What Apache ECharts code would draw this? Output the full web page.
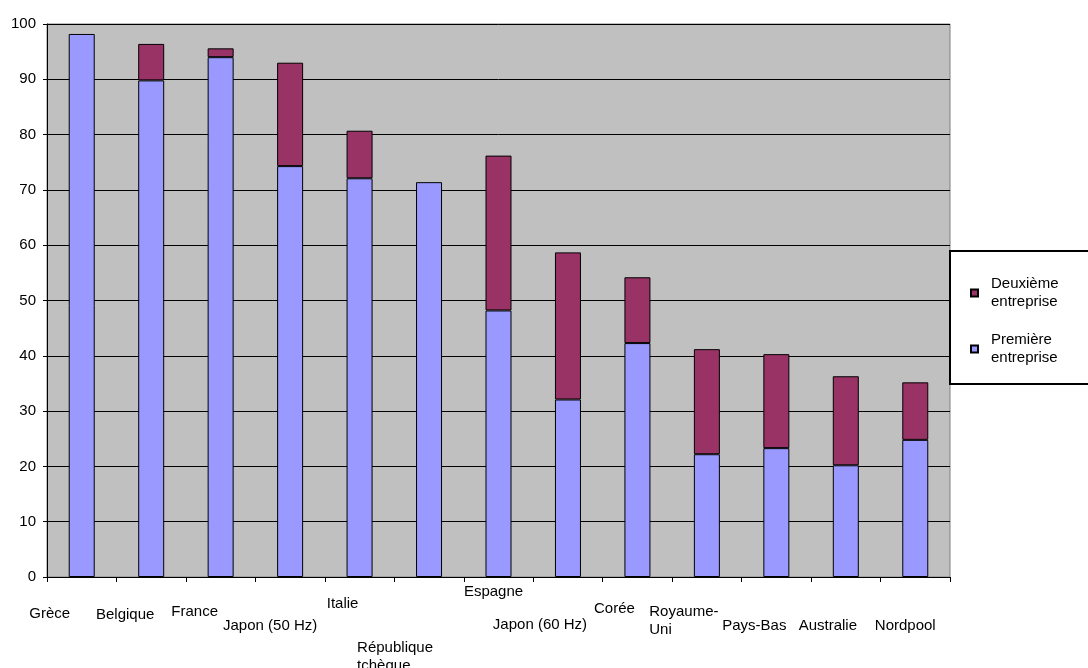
<!DOCTYPE html>
<html>
<head>
<meta charset="utf-8">
<title>Part de marché des deux premières entreprises</title>
<script src="https://cdn.jsdelivr.net/npm/echarts@6/dist/echarts.min.js"></script>
<style>
  html, body { margin: 0; padding: 0; background: #ffffff; }
  #chart { width: 1088px; height: 668px; }
</style>
</head>
<body>
<div id="chart"></div>
<script>
// Categories (multi-line names keep their line break)
const categories = [
  'Grèce', 'Belgique', 'France', 'Japon (50 Hz)', 'Italie',
  'République\ntchèque', 'Espagne', 'Japon (60 Hz)', 'Corée',
  'Royaume-\nUni', 'Pays-Bas', 'Australie', 'Nordpool'
];

// Share of the largest company (bottom segment)
const premiereEntreprise = [98.2, 89.8, 94.0, 74.3, 72.1, 71.4, 48.2, 32.1, 42.3, 22.2, 23.3, 20.2, 24.8];

// Share of the second company (stacked on top)
const deuxiemeEntreprise = [null, 6.6, 1.6, 18.7, 8.6, null, 28.0, 26.6, 11.9, 19.0, 17.0, 16.1, 10.4];

const seriesNames = ['Première entreprise', 'Deuxième entreprise'];

// Value axis range and step
const yMin = 0, yMax = 100, yStep = 10;

// Staggered placement of the category labels: horizontal shift and drop below the axis (px)
const labelShiftX = [-32, -26, -26, -20, -17, -34, -5, -28, -23, -23, -22, -18, -10];
const labelDropY  = [26, 27, 24, 38, 16, 60, 4, 37, 21, 24, 38, 38, 38];

const FONT = '"Liberation Sans", Arial, Helvetica, sans-serif';

const axisData = categories.map((name, i) => {
  const dx = labelShiftX[i];
  const padL = dx > 0 ? 2 * dx : 0;
  const padR = dx < 0 ? -2 * dx : 0;
  return { value: name, textStyle: { padding: [labelDropY[i], padR, 0, padL] } };
});

const chart = echarts.init(document.getElementById('chart'), null, { renderer: 'canvas' });

chart.setOption({
  animation: false,
  backgroundColor: '#ffffff',
  textStyle: { fontFamily: FONT, color: '#000000' },
  grid: {
    left: 47, right: 138, top: 24, bottom: 91,
    show: true,
    backgroundColor: '#C0C0C0',
    borderColor: '#808080',
    borderWidth: 1,
    containLabel: false,
    outerBoundsMode: 'none'
  },
  legend: {
    orient: 'vertical',
    left: 950,
    top: 251,
    padding: [21, 45, 14, 20],
    backgroundColor: '#ffffff',
    borderColor: '#000000',
    borderWidth: 2,
    borderRadius: 0,
    itemWidth: 7,
    itemHeight: 7,
    itemGap: 14,
    icon: 'rect',
    data: [seriesNames[1], seriesNames[0]],
    formatter: name => name.replace(' ', '\n'),
    textStyle: {
      fontFamily: FONT,
      fontSize: 15,
      color: '#000000',
      lineHeight: 18,
      padding: [0, 0, 6, 8]
    },
    selectedMode: false
  },
  xAxis: {
    type: 'category',
    data: axisData,
    boundaryGap: true,
    axisLine: { show: true, lineStyle: { color: '#000000', width: 1 } },
    axisTick: { show: true, interval: 0, length: 5, lineStyle: { color: '#000000', width: 1 } },
    axisLabel: {
      interval: 0,
      margin: 2,
      fontFamily: FONT,
      fontSize: 15,
      lineHeight: 18,
      color: '#000000',
      formatter: v => v.indexOf('\n') >= 0 ? '{m|' + v + '}' : v,
      rich: {
        m: { align: 'left', fontFamily: FONT, fontSize: 15, lineHeight: 18, color: '#000000' }
      }
    },
    splitLine: { show: false }
  },
  yAxis: {
    type: 'value',
    min: yMin,
    max: yMax,
    interval: yStep,
    axisLine: { show: true, lineStyle: { color: '#000000', width: 1 } },
    axisTick: { show: true, length: 4, lineStyle: { color: '#000000', width: 1 } },
    axisLabel: { margin: 11, fontFamily: FONT, fontSize: 15, color: '#000000' },
    splitLine: { show: true, lineStyle: { color: '#000000', width: 1 } }
  },
  series: [
    {
      name: seriesNames[0],
      type: 'bar',
      stack: 'parts',
      barWidth: 26,
      data: premiereEntreprise,
      itemStyle: { color: '#9999FF', borderColor: '#000000', borderWidth: 1 }
    },
    {
      name: seriesNames[1],
      type: 'bar',
      stack: 'parts',
      barWidth: 26,
      data: deuxiemeEntreprise,
      itemStyle: { color: '#993366', borderColor: '#000000', borderWidth: 1 }
    }
  ]
});
</script>
</body>
</html>
